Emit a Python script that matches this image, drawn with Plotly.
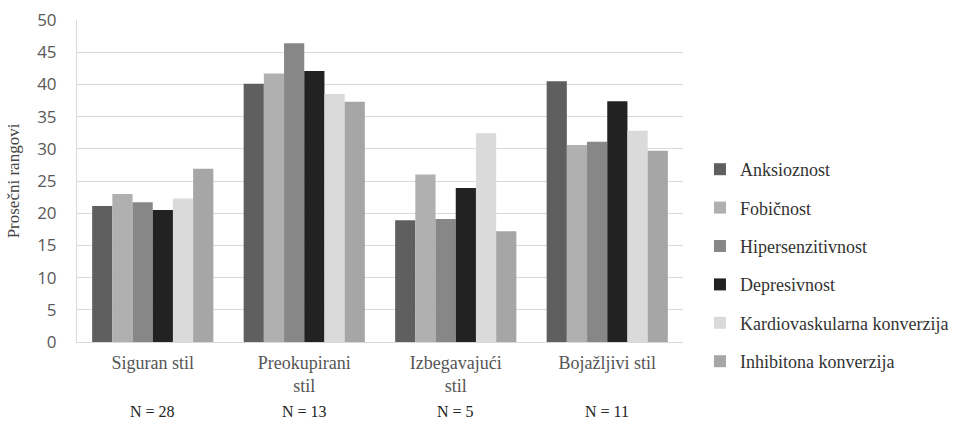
import plotly.graph_objects as go

# Attachment styles (x categories) and group sizes
categories = ["Siguran stil", "Preokupirani<br>stil", "Izbegavajući<br>stil", "Bojažljivi stil"]
group_sizes = ["N = 28", "N = 13", "N = 5", "N = 11"]

# Mean ranks per symptom scale
anksioznost = [21.1, 40.1, 18.9, 40.5]
fobicnost = [23.0, 41.7, 26.0, 30.6]
hipersenzitivnost = [21.7, 46.4, 19.1, 31.1]
depresivnost = [20.5, 42.1, 23.9, 37.4]
kardiovaskularna = [22.3, 38.5, 32.4, 32.8]
inhibitona = [26.9, 37.3, 17.2, 29.7]

series_names = ["Anksioznost", "Fobičnost", "Hipersenzitivnost", "Depresivnost",
                "Kardiovaskularna konverzija", "Inhibitona konverzija"]
series_values = [anksioznost, fobicnost, hipersenzitivnost, depresivnost,
                 kardiovaskularna, inhibitona]
series_colors = ["#5f5f5f", "#b0b0b0", "#878787", "#222222", "#dadada", "#a6a6a6"]

serif = "Liberation Serif"

fig = go.Figure()
for i, (name, vals, col) in enumerate(zip(series_names, series_values, series_colors)):
    fig.add_trace(go.Bar(
        x=categories, y=vals, name=name,
        marker=dict(color=col, line=dict(width=0)),
        legendgroup=f"g{i}",
    ))

# Group size labels under each category
for cat, n in zip(categories, group_sizes):
    fig.add_annotation(
        x=cat, xref="x", y=-0.215, yref="paper", yanchor="middle",
        text=n, showarrow=False,
        font=dict(family=serif, size=16, color="#222222"),
    )

# Vertical y-axis title
fig.add_annotation(
    x=-0.105, xref="paper", y=0.5, yref="paper",
    xanchor="center", yanchor="middle", textangle=-90,
    text="Prosečni rangovi", showarrow=False,
    font=dict(family=serif, size=17, color="#444444"),
)

fig.update_layout(
    width=980, height=433,
    margin=dict(l=77, r=297, t=20, b=91),
    paper_bgcolor="white", plot_bgcolor="white",
    barmode="group", bargap=0.2, bargroupgap=0,
    showlegend=True,
    font=dict(family=serif),
    legend=dict(
        x=1.028, xanchor="left", y=0.2376, yanchor="middle",
        font=dict(family=serif, size=18, color="#333333"),
        tracegroupgap=12, itemwidth=30,
        bgcolor="rgba(0,0,0,0)",
    ),
    xaxis=dict(
        showgrid=False, showline=True, linecolor="#d9d9d9", linewidth=1,
        tickfont=dict(family=serif, size=18, color="#555555"),
        ticks="outside", ticklen=4, tickcolor="rgba(0,0,0,0)",
        automargin=False,
    ),
    yaxis=dict(
        range=[0, 50], dtick=5, tick0=0,
        showgrid=True, gridcolor="#d9d9d9", gridwidth=1,
        showline=True, linecolor="#d9d9d9", linewidth=1,
        zeroline=False, automargin=False,
        tickfont=dict(family="Open Sans, sans-serif", size=17, color="#595959"),
        ticks="outside", ticklen=16, tickcolor="rgba(0,0,0,0)",
    ),
)

fig.write_html("out.html")
